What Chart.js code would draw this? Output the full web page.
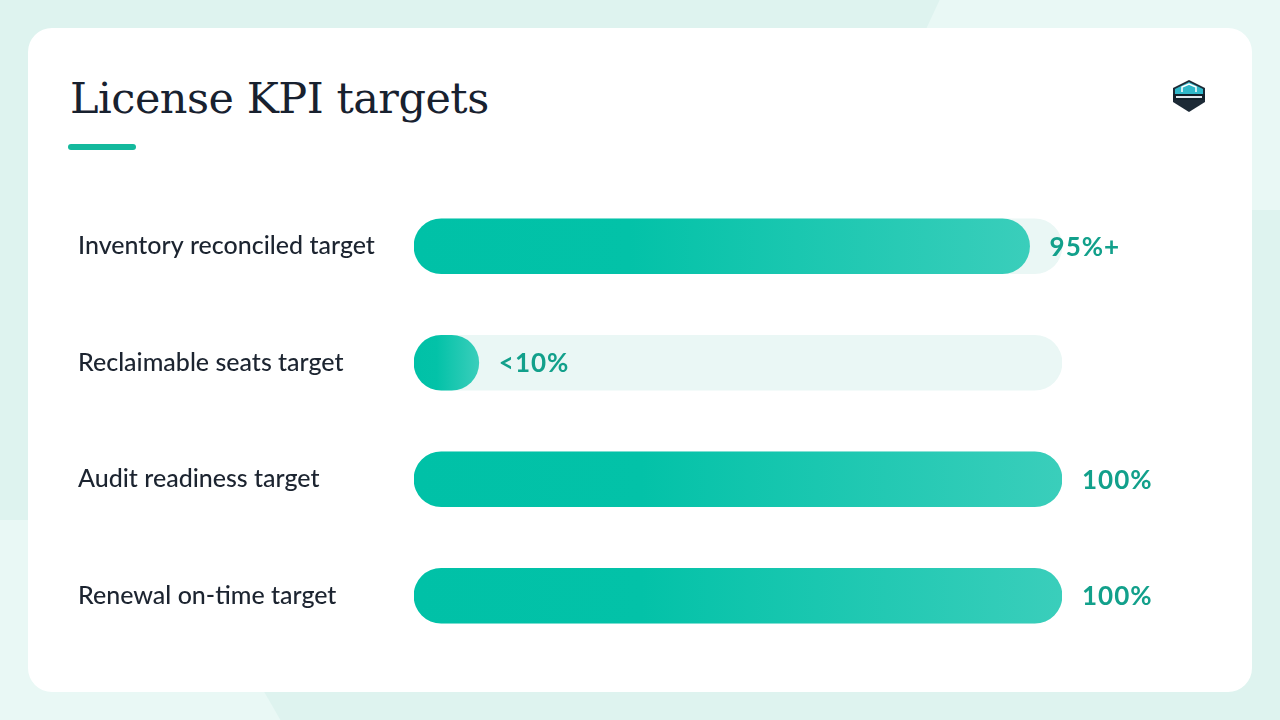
<!DOCTYPE html>
<html>
<head>
<meta charset="utf-8">
<script src="https://cdn.jsdelivr.net/npm/chart.js@4"></script>
<style>
  html, body { margin: 0; padding: 0; }
  body {
    width: 1280px; height: 720px; overflow: hidden; position: relative;
    background: #def3ef;
    font-family: Lato, "Noto Sans", sans-serif;
  }
  .shape1 { position: absolute; left: 900px; top: -40px; width: 520px; height: 250px;
    background: #e9f8f5; transform: skewX(-25deg); }
  .shape2 { position: absolute; left: -120px; top: 520px; width: 360px; height: 260px;
    background: #e9f8f5; transform: skewX(30deg); }
  .card {
    position: absolute; left: 28px; top: 28px; width: 1224px; height: 664px;
    background: #ffffff; border-radius: 24px;
  }
  h1 {
    position: absolute; left: 42px; top: 45px; margin: 0;
    font-family: "DejaVu Serif", serif; font-weight: normal;
    font-size: 43px; color: #18212f; letter-spacing: -0.5px;
  }
  .accent {
    position: absolute; left: 40px; top: 116px; width: 68px; height: 6px;
    border-radius: 3px; background: #14b99d;
  }
  .logo { position: absolute; left: 1141px; top: 50px; width: 40px; height: 36px; }
  #chartBox { position: absolute; left: 0; top: 0; width: 1224px; height: 664px; }
</style>
</head>
<body>
<div class="shape1"></div>
<div class="shape2"></div>
<div class="card">
  <h1>License KPI targets</h1>
  <div class="accent"></div>
  <svg class="logo" viewBox="0 0 40 36">
    <polygon points="20,2 36,10 36,24 20,34 4,24 4,10" fill="#1d2a36"/>
    <polygon points="20,4 34,11 34,16 6,16 6,11" fill="#2fb7c9"/>
    <rect x="4" y="16" width="32" height="6" fill="#12202b"/>
    <rect x="7" y="18" width="26" height="2" fill="#dfe8ee"/>
    <polyline points="13,14 13,9 20,6 27,9 27,14" fill="none" stroke="#ffffff" stroke-width="1.5"/>
  </svg>
  <div id="chartBox"><canvas id="kpiChart"></canvas></div>
</div>

<script>
// KPI data
const categories = [
    "Inventory reconciled target",
    "Reclaimable seats target",
    "Audit readiness target",
    "Renewal on-time target",
];
const targetValues = [95, 10, 100, 100];
const valueLabels = ["95%+", "<10%", "100%", "100%"];
const trackValues = [100, 100, 100, 100];

// gradient per bar: solid teal first, lighter toward the end
function barGradient(context) {
    const chart = context.chart;
    const x = chart.scales.x;
    if (!chart.chartArea || !x) return "#00c1a7";
    const start = x.getPixelForValue(0);
    const end = x.getPixelForValue(targetValues[context.dataIndex]);
    const g = chart.ctx.createLinearGradient(start, 0, end, 0);
    g.addColorStop(0, "#00c1a7");
    g.addColorStop(0.35, "#03c2a8");
    g.addColorStop(1, "#3acebb");
    return g;
}

// value text after the end of each fill
const valueLabelPlugin = {
    id: "valueLabels",
    afterDatasetsDraw(chart) {
        const ctx = chart.ctx;
        const meta = chart.getDatasetMeta(1);
        ctx.save();
        ctx.font = "bold 26px Lato, sans-serif";
        ctx.fillStyle = "#12a08b";
        ctx.textBaseline = "middle";
        if ("letterSpacing" in ctx) ctx.letterSpacing = "1px";
        meta.data.forEach((bar, i) => {
            ctx.fillText(valueLabels[i], bar.x + 20, bar.y + 1);
        });
        ctx.restore();
    },
};

new Chart(document.getElementById("kpiChart"), {
    type: "bar",
    data: {
        labels: categories,
        datasets: [
            {
                data: trackValues,
                backgroundColor: "#eaf7f5",
                borderRadius: 28,
                borderSkipped: false,
                barThickness: 55,
                grouped: false,
                order: 2,
            },
            {
                data: targetValues,
                backgroundColor: barGradient,
                borderRadius: 28,
                borderSkipped: false,
                barThickness: 55,
                grouped: false,
                order: 1,
            },
        ],
    },
    options: {
        indexAxis: "y",
        responsive: true,
        maintainAspectRatio: false,
        animation: false,
        layout: { padding: { left: 50, right: 190, top: 160, bottom: 38 } },
        plugins: {
            legend: { display: false },
            tooltip: { enabled: false },
        },
        scales: {
            x: {
                min: 0,
                max: 100,
                display: false,
            },
            y: {
                grid: { display: false },
                border: { display: false },
                afterFit: (scale) => { scale.width = 336; },
                ticks: {
                    crossAlign: "far",
                    padding: 0,
                    color: "#1c2430",
                    font: { family: "Lato, sans-serif", size: 25, weight: "500" },
                },
            },
        },
    },
    plugins: [valueLabelPlugin],
});
</script>
</body>
</html>
